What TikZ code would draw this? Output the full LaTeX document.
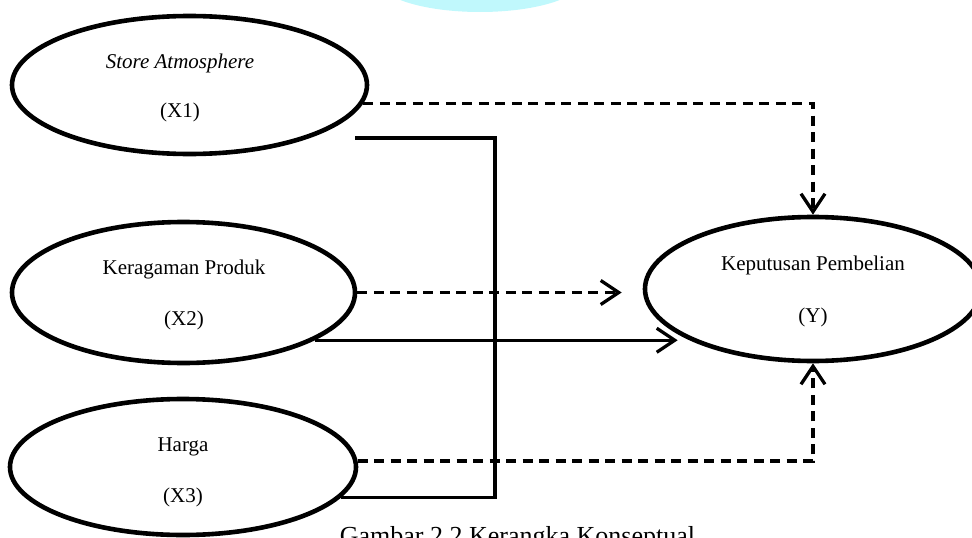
\documentclass[tikz,border=0pt]{standalone}
\usepackage{fontspec}
\setmainfont{Liberation Serif}
\usetikzlibrary{shapes.geometric,arrows.meta,calc}
\definecolor{wmcyan}{RGB}{192,248,252}
\begin{document}
\begin{tikzpicture}[x=1pt,y=-1pt,
  var/.style={ellipse,draw,line width=4.6pt,inner sep=0pt},
  lbl/.style={font=\fontsize{21}{25}\selectfont,anchor=base,inner sep=0pt},
  link/.style={line width=3.3pt},
  dlink/.style={line width=3.3pt,dash pattern=on 10pt off 6.5pt},
  tip/.style={-{Straight Barb[length=18pt,width=24pt]}},
  wm/.style={fill=wmcyan}
]
\useasboundingbox (0,0) rectangle (972,538);
\clip (0,0) rectangle (972,538);

% faint header blob
\fill[wm] (480,-20) ellipse [x radius=102, y radius=32];

% variables
\node[var,minimum width=355pt,minimum height=138pt] (x1) at (189.5,85) {};
\node[var,minimum width=343pt,minimum height=141pt] (x2) at (183.5,292.5) {};
\node[var,minimum width=346pt,minimum height=136pt] (x3) at (183,467) {};
\node[var,minimum width=336pt,minimum height=144pt] (y) at (813,289) {};

% variable names and codes
\node[lbl] (x1name) at (180,68) {\itshape Store Atmosphere};
\node[lbl] (x1code) at (180,117) {(X1)};
\node[lbl] (x2name) at (184,274) {Keragaman Produk};
\node[lbl] (x2code) at (184,325) {(X2)};
\node[lbl] (x3name) at (183,451) {Harga};
\node[lbl] (x3code) at (183,502) {(X3)};
\node[lbl] (yname) at (813,270) {Keputusan Pembelian};
\node[lbl] (ycode) at (813,322) {(Y)};

% caption
\node[lbl,font=\fontsize{26}{30}\selectfont] (cap) at (517.5,544) {Gambar 2.2 Kerangka Konseptual};

% routing points
\coordinate (ydash) at ($(y.west |- x2.east)+(-21,0)$);
\coordinate (ysolid) at ($(y.west)+(35,0)$);
\coordinate (x1out) at (355,138);
\coordinate (bus) at (495,138);

% partial effects (dashed)
\draw[dlink,tip] (x1.-6.3) -| (y.north);
\draw[dlink,tip] (x2.east) -- (ydash);
\draw[dlink,tip] (x3.2) -| (y.south);

% simultaneous effect (solid)
\draw[link] (x1out) -- (bus) |- (x3.-11.7);
\draw[link,tip] (x2.-20) -- (x2.-20 -| ysolid);
\end{tikzpicture}
\end{document}
